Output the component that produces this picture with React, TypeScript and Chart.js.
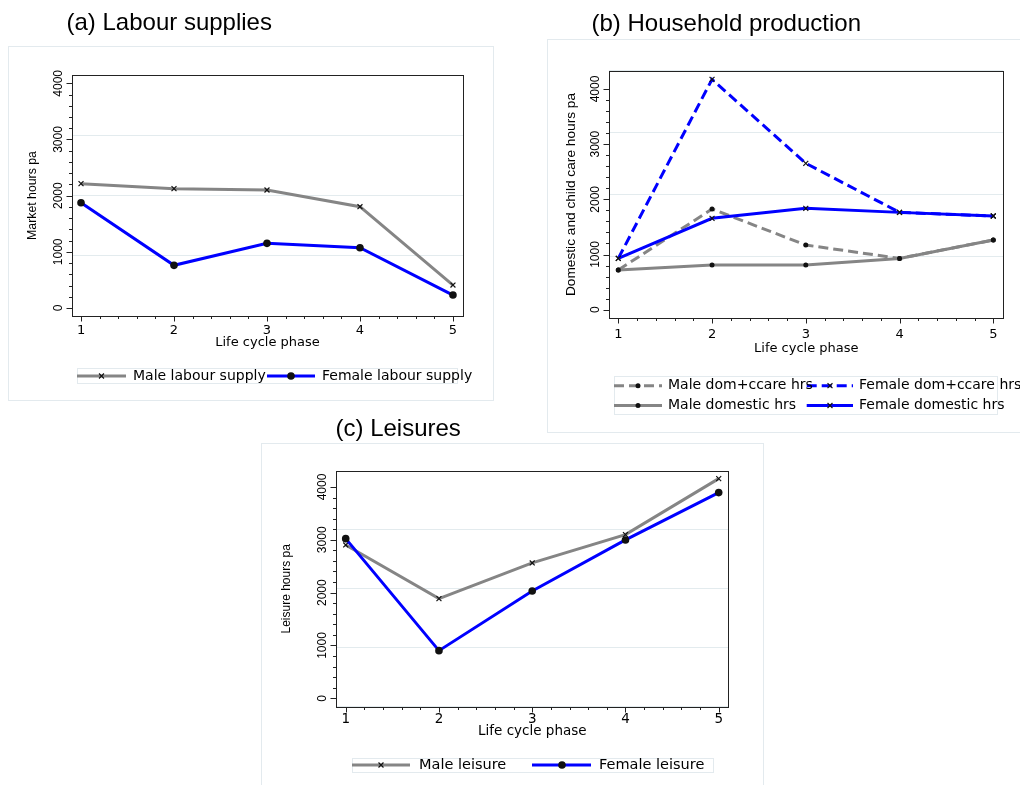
import React, { useEffect, useRef } from "react";
import { Chart, registerables } from "chart.js";
Chart.register(...registerables);

// ---------- data ----------
const phases = [1, 2, 3, 4, 5];
const yTickValues = [0, 1000, 2000, 3000, 4000];

// (a) Labour supplies
const maleLabour = [2214, 2125, 2101, 1804, 409];
const femaleLabour = [1875, 760, 1151, 1074, 231];

// (b) Household production
const maleDomCcare = [719, 1825, 1172, 930, 1263];
const femaleDomCcare = [930, 4175, 2653, 1764, 1698];
const maleDomestic = [719, 810, 810, 930, 1263];
const femaleDomestic = [930, 1656, 1837, 1764, 1698];

// (c) Leisures
const maleLeisure = [2902, 1886, 2562, 3098, 4158];
const femaleLeisure = [3022, 902, 2032, 2997, 3893];

const panelTitles = ["(a) Labour supplies", "(b) Household production", "(c) Leisures"];
const xTitle = "Life cycle phase";
const yTitles = ["Market hours pa", "Domestic and child care hours pa", "Leisure hours pa"];
const seriesNamesA = ["Male labour supply", "Female labour supply"];
const seriesNamesB = ["Male dom+ccare hrs", "Female dom+ccare hrs", "Male domestic hrs", "Female domestic hrs"];
const seriesNamesC = ["Male leisure", "Female leisure"];

// ---------- styles ----------
const W = 1020;
const H = 785;
const GRAY = "#858585";
const BLUE = "#0000ff";
const MARK = "#111111";
const AXIS = "#222222";
const GRID = "#e3ebee";
const FRAME = "#e3eaee";
const DEJAVU = "'DejaVu Sans', 'Liberation Sans', sans-serif";
const ARIAL = "'Liberation Sans', Arial, sans-serif";
const Y_AXIS_W = 60;
const X_AXIS_H = 40;

const pts = (vals: number[]) => phases.map((x, i) => ({ x, y: vals[i] }));

type Style = { color: string; dash: number[]; marker: "circle" | "crossRot"; r: number };

const sMaleX: Style = { color: GRAY, dash: [], marker: "crossRot", r: 3.5 };
const sFemDot: Style = { color: BLUE, dash: [], marker: "circle", r: 3.8 };
const sMaleDotDash: Style = { color: GRAY, dash: [10, 5], marker: "circle", r: 2.5 };
const sFemXDash: Style = { color: BLUE, dash: [10, 5], marker: "crossRot", r: 3.5 };
const sMaleDot: Style = { color: GRAY, dash: [], marker: "circle", r: 2.5 };
const sFemX: Style = { color: BLUE, dash: [], marker: "crossRot", r: 3.5 };

function makeDataset(label: string, vals: number[], s: Style, idx: number) {
  return {
    label,
    data: pts(vals),
    borderColor: s.color,
    borderWidth: 3,
    borderDash: s.dash,
    borderCapStyle: "butt",
    borderJoinStyle: "miter",
    tension: 0,
    fill: false,
    pointStyle: s.marker,
    pointRadius: s.r,
    pointHoverRadius: s.r,
    pointBackgroundColor: MARK,
    pointBorderColor: MARK,
    pointBorderWidth: s.marker === "circle" ? 0 : 1.2,
    order: -idx,
  };
}

type LegendItem = { x1: number; x2: number; mx: number; y: number; tx: number };

type Panel = {
  key: string;
  title: string;
  titleLeft: number;
  titleTop: number;
  frame: [number, number, number, number];
  area: { l: number; t: number; r: number; b: number };
  xRange: [number, number];
  yRange: [number, number];
  xFont: number;
  xTickPad: number;
  xTitlePad: number;
  yTitle: string;
  yTitleFont: number;
  yTitlePad: number;
  names: string[];
  vals: number[][];
  styles: Style[];
  legendBox: [number, number, number, number];
  legendFont: number;
  legend: LegendItem[];
};

const panels: Panel[] = [
  {
    key: "a",
    title: panelTitles[0],
    titleLeft: 66.5,
    titleTop: 10.4,
    frame: [8, 46, 493, 400],
    area: { l: 72, t: 75, r: 463, b: 316 },
    xRange: [0.903, 5.108],
    yRange: [-142, 4148],
    xFont: 13,
    xTickPad: 6.7,
    xTitlePad: 5.4,
    yTitle: yTitles[0],
    yTitleFont: 12.3,
    yTitlePad: 13,
    names: seriesNamesA,
    vals: [maleLabour, femaleLabour],
    styles: [sMaleX, sFemDot],
    legendBox: [77, 368, 457, 383],
    legendFont: 14,
    legend: [
      { x1: 77, x2: 126, mx: 101.5, y: 376, tx: 133 },
      { x1: 267, x2: 315, mx: 291, y: 376, tx: 322 },
    ],
  },
  {
    key: "b",
    title: panelTitles[1],
    titleLeft: 591.5,
    titleTop: 11.4,
    frame: [547, 39, 1030, 432],
    area: { l: 609.3, t: 70.7, r: 1003.3, b: 318.3 },
    xRange: [0.904, 5.107],
    yRange: [-156, 4332],
    xFont: 13,
    xTickPad: 8.1,
    xTitlePad: 2.2,
    yTitle: yTitles[1],
    yTitleFont: 13.7,
    yTitlePad: 14.2,
    names: seriesNamesB,
    vals: [maleDomCcare, femaleDomCcare, maleDomestic, femaleDomestic],
    styles: [sMaleDotDash, sFemXDash, sMaleDot, sFemX],
    legendBox: [614, 376, 997, 414],
    legendFont: 14,
    legend: [
      { x1: 614, x2: 662, mx: 638, y: 385.7, tx: 668 },
      { x1: 806.7, x2: 853, mx: 830, y: 385.7, tx: 859 },
      { x1: 614, x2: 662, mx: 638, y: 405.5, tx: 668 },
      { x1: 806.7, x2: 853, mx: 830, y: 405.5, tx: 859 },
    ],
  },
  {
    key: "c",
    title: panelTitles[2],
    titleLeft: 335.5,
    titleTop: 416.4,
    frame: [261, 443, 763, 800],
    area: { l: 336.3, t: 471, r: 728.3, b: 706.7 },
    xRange: [0.899, 5.103],
    yRange: [-159, 4302],
    xFont: 13.5,
    xTickPad: 4.7,
    xTitlePad: 7.3,
    yTitle: yTitles[2],
    yTitleFont: 12,
    yTitlePad: 3.1,
    names: seriesNamesC,
    vals: [maleLeisure, femaleLeisure],
    styles: [sMaleX, sFemDot],
    legendBox: [352, 758, 713, 772],
    legendFont: 14.5,
    legend: [
      { x1: 352, x2: 410, mx: 381, y: 765, tx: 419 },
      { x1: 532, x2: 591, mx: 562, y: 765, tx: 599 },
    ],
  },
];

function drawMarker(ctx: CanvasRenderingContext2D, s: Style, x: number, y: number) {
  ctx.save();
  if (s.marker === "circle") {
    ctx.fillStyle = MARK;
    ctx.beginPath();
    ctx.arc(x, y, s.r, 0, Math.PI * 2);
    ctx.fill();
  } else {
    const d = s.r * Math.SQRT1_2;
    ctx.strokeStyle = MARK;
    ctx.lineWidth = 1.2;
    ctx.beginPath();
    ctx.moveTo(x - d, y - d);
    ctx.lineTo(x + d, y + d);
    ctx.moveTo(x - d, y + d);
    ctx.lineTo(x + d, y - d);
    ctx.stroke();
  }
  ctx.restore();
}

function makePlugin(p: Panel) {
  return {
    id: "stata_" + p.key,
    beforeDraw(chart: any) {
      const ctx: CanvasRenderingContext2D = chart.ctx;
      const [x1, y1, x2, y2] = p.frame;
      ctx.save();
      ctx.strokeStyle = FRAME;
      ctx.lineWidth = 1;
      ctx.strokeRect(x1 + 0.5, y1 + 0.5, x2 - x1, y2 - y1);
      ctx.restore();
    },
    afterDraw(chart: any) {
      const ctx: CanvasRenderingContext2D = chart.ctx;
      const { left, top, right, bottom } = chart.chartArea;
      const xs = chart.scales.x;
      const ys = chart.scales.y;
      const L = Math.round(left) + 0.5;
      const T = Math.round(top) + 0.5;
      const R = Math.round(right) + 0.5;
      const B = Math.round(bottom) + 0.5;
      ctx.save();
      // plot border
      ctx.strokeStyle = AXIS;
      ctx.lineWidth = 1;
      ctx.strokeRect(L, T, R - L, B - T);
      // tick marks (major + minor)
      ctx.beginPath();
      for (let v = 0; v <= 4000; v += 200) {
        const py = Math.round(ys.getPixelForValue(v)) + 0.5;
        const len = v % 1000 === 0 ? 6 : 3.5;
        ctx.moveTo(L, py);
        ctx.lineTo(L - len, py);
      }
      for (let k = 0; k <= 20; k++) {
        const v = 1 + k * 0.2;
        const px = Math.round(xs.getPixelForValue(v)) + 0.5;
        const len = k % 5 === 0 ? 5 : 2.5;
        ctx.moveTo(px, B);
        ctx.lineTo(px, B + len);
      }
      ctx.stroke();
      // rotated y tick labels
      ctx.fillStyle = "#000";
      ctx.font = `12px ${ARIAL}`;
      ctx.textAlign = "center";
      ctx.textBaseline = "alphabetic";
      for (const v of yTickValues) {
        const py = ys.getPixelForValue(v);
        ctx.save();
        ctx.translate(left - 10, py);
        ctx.rotate(-Math.PI / 2);
        ctx.fillText(String(v), 0, 0);
        ctx.restore();
      }
      // legend box
      const [bx1, by1, bx2, by2] = p.legendBox;
      ctx.fillStyle = "#ffffff";
      ctx.fillRect(bx1, by1, bx2 - bx1, by2 - by1);
      ctx.strokeStyle = FRAME;
      ctx.lineWidth = 1;
      ctx.strokeRect(bx1 + 0.5, by1 + 0.5, bx2 - bx1, by2 - by1);
      // legend items
      p.legend.forEach((it, i) => {
        const s = p.styles[i];
        ctx.save();
        ctx.strokeStyle = s.color;
        ctx.lineWidth = 3;
        ctx.lineCap = "butt";
        ctx.setLineDash(s.dash);
        ctx.beginPath();
        ctx.moveTo(it.x1, it.y);
        ctx.lineTo(it.x2, it.y);
        ctx.stroke();
        ctx.restore();
        drawMarker(ctx, s, it.mx, it.y);
      });
      p.legend.forEach((it, i) => {
        ctx.fillStyle = "#000";
        ctx.font = `${p.legendFont}px ${DEJAVU}`;
        ctx.textAlign = "left";
        ctx.textBaseline = "middle";
        ctx.fillText(p.names[i], it.tx, it.y);
      });
      ctx.restore();
    },
  };
}

function PanelChart({ p }: { p: Panel }) {
  const ref = useRef<HTMLCanvasElement | null>(null);
  useEffect(() => {
    if (!ref.current) return;
    const datasets = p.vals.map((v, i) => makeDataset(p.names[i], v, p.styles[i], i));
    const chart = new Chart(ref.current, {
      type: "line",
      data: { datasets } as any,
      plugins: [makePlugin(p)],
      options: {
        animation: false,
        responsive: false,
        events: [],
        devicePixelRatio: 1,
        layout: {
          padding: {
            left: p.area.l - Y_AXIS_W,
            top: p.area.t,
            right: W - p.area.r,
            bottom: H - p.area.b - X_AXIS_H,
          },
        },
        plugins: {
          legend: { display: false },
          title: { display: false },
          tooltip: { enabled: false },
        },
        scales: {
          x: {
            type: "linear",
            min: p.xRange[0],
            max: p.xRange[1],
            afterFit: (scale: any) => {
              scale.height = X_AXIS_H;
            },
            grid: { display: false, drawTicks: false, tickLength: 0 },
            border: { display: false },
            ticks: {
              stepSize: 1,
              includeBounds: false,
              padding: p.xTickPad,
              color: "#000",
              font: { family: DEJAVU, size: p.xFont },
              maxRotation: 0,
              minRotation: 0,
              autoSkip: false,
            },
            title: {
              display: true,
              text: xTitle,
              color: "#000",
              font: { family: DEJAVU, size: p.xFont },
              padding: { top: 0, bottom: p.xTitlePad },
            },
          },
          y: {
            type: "linear",
            min: p.yRange[0],
            max: p.yRange[1],
            afterFit: (scale: any) => {
              scale.width = Y_AXIS_W;
            },
            grid: { color: GRID, lineWidth: 1, drawTicks: false, tickLength: 0 },
            border: { display: false },
            ticks: { stepSize: 1000, includeBounds: false, display: false },
            title: {
              display: true,
              text: p.yTitle,
              color: "#000",
              font: { family: ARIAL, size: p.yTitleFont },
              padding: { top: p.yTitlePad, bottom: 0 },
            },
          },
        },
      } as any,
    });
    return () => chart.destroy();
  }, [p]);
  return (
    <canvas
      ref={ref}
      width={W}
      height={H}
      style={{ position: "absolute", left: 0, top: 0, width: W, height: H }}
    />
  );
}

export default function App() {
  return (
    <div
      style={{
        position: "fixed",
        left: 0,
        top: 0,
        width: W,
        height: H,
        overflow: "hidden",
        background: "#ffffff",
      }}
    >
      {panels.map((p) => (
        <PanelChart key={p.key} p={p} />
      ))}
      {panels.map((p) => (
        <div
          key={"t" + p.key}
          style={{
            position: "absolute",
            left: p.titleLeft,
            top: p.titleTop,
            fontFamily: ARIAL,
            fontSize: 24,
            lineHeight: "24px",
            whiteSpace: "nowrap",
            color: "#000",
          }}
        >
          {p.title}
        </div>
      ))}
    </div>
  );
}
